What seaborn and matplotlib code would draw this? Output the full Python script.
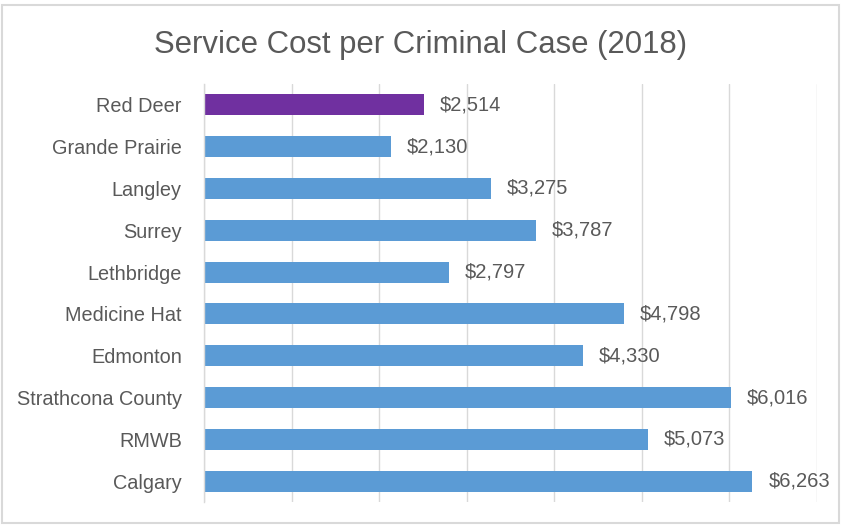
import matplotlib
matplotlib.use("Agg")
import matplotlib.pyplot as plt
from matplotlib.patches import Rectangle
from matplotlib.ticker import MultipleLocator
import seaborn as sns
import pandas as pd

cities = ["Red Deer", "Grande Prairie", "Langley", "Surrey", "Lethbridge",
          "Medicine Hat", "Edmonton", "Strathcona County", "RMWB", "Calgary"]
costs = [2514, 2130, 3275, 3787, 2797, 4798, 4330, 6016, 5073, 6263]
highlight = "Red Deer"
title = "Service Cost per Criminal Case (2018)"

sns.set_theme(style="white")
plt.rcParams["font.family"] = ["Liberation Sans", "DejaVu Sans"]

text_color = "#595959"
purple = "#7030A0"
blue = "#5B9BD5"

df = pd.DataFrame({"city": cities, "cost": costs})
palette = {c: (purple if c == highlight else blue) for c in cities}

fig = plt.figure(figsize=(8.41, 5.25), dpi=100)
ax = fig.add_axes([204 / 841, 1 - 502 / 525, (817 - 204) / 841, (502 - 84) / 525])

sns.barplot(data=df, y="city", x="cost", hue="city", palette=palette,
            order=cities, orient="h", width=0.5, legend=False, ax=ax,
            saturation=1, edgecolor="none")

ax.set_xlim(0, 7000)
ax.xaxis.set_major_locator(MultipleLocator(1000))
ax.grid(axis="x", color="#D9D9D9", linewidth=1)
ax.grid(axis="y", visible=False)
ax.set_axisbelow(True)
for s in ["top", "right", "bottom"]:
    ax.spines[s].set_visible(False)
ax.spines["left"].set_color("#D9D9D9")
ax.spines["left"].set_linewidth(1)
ax.set_xticklabels([])
ax.tick_params(axis="x", length=0)
ax.tick_params(axis="y", length=0, pad=16, labelsize=14.3, labelcolor=text_color)
ax.set_xlabel("")
ax.set_ylabel("")

for container in ax.containers:
    ax.bar_label(container, labels=[f"${v:,.0f}" for v in container.datavalues],
                 padding=11.5, fontsize=14.5, color=text_color)

fig.text(0.5, 1 - 45 / 525, title, ha="center", va="center",
         fontsize=22.4, color=text_color)

fig.patches.append(Rectangle((2 / 841, 2 / 525), 837 / 841, 518 / 525,
                             transform=fig.transFigure, fill=False,
                             edgecolor="#D9D9D9", linewidth=1.5))

fig.savefig("out.png", dpi=100, facecolor="white")
